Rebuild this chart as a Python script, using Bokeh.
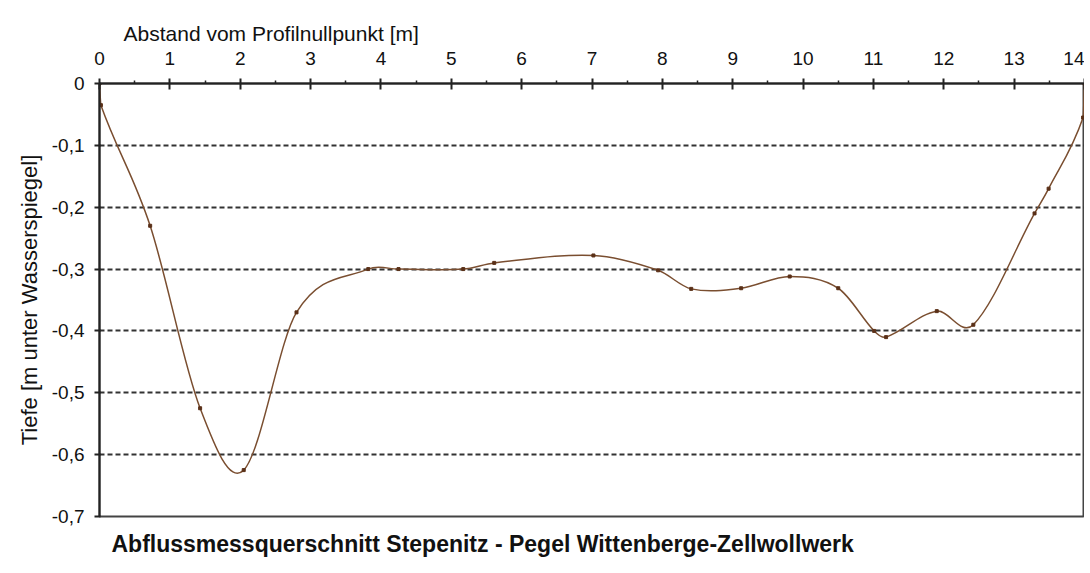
from bokeh.plotting import figure
from bokeh.models import Range1d, FixedTicker, Title, ColumnDataSource
from bokeh.embed import file_html
from bokeh.resources import INLINE

# Measured cross-section: distance from profile zero point [m] and depth [m]
dist = [0.0, 0.02, 0.72, 1.43, 2.05, 2.8, 3.82, 4.25, 5.17, 5.61, 7.02, 7.94,
        8.41, 9.12, 9.81, 10.5, 11.01, 11.18, 11.9, 12.42, 13.29, 13.49, 13.98, 14.0]
depth = [0.0, -0.035, -0.23, -0.525, -0.625, -0.37, -0.30, -0.30, -0.30, -0.29, -0.278, -0.302,
         -0.332, -0.331, -0.312, -0.331, -0.40, -0.41, -0.368, -0.39, -0.21, -0.17, -0.055, 0.0]

x_ticks = list(range(0, 15))
x_minor = [i + 0.5 for i in range(0, 14)]
y_ticks = [0, -0.1, -0.2, -0.3, -0.4, -0.5, -0.6, -0.7]
y_labels = ["0", "-0,1", "-0,2", "-0,3", "-0,4", "-0,5", "-0,6", "-0,7"]

title_text = "Abflussmessquerschnitt Stepenitz - Pegel Wittenberge-Zellwollwerk"
x_title = "Abstand vom Profilnullpunkt [m]"
y_title = "Tiefe [m unter Wasserspiegel]"

FONT = "Liberation Sans"

p = figure(width=1084, height=570, x_range=Range1d(0, 14), y_range=Range1d(-0.7, 0),
           x_axis_location="above", output_backend="svg", toolbar_location=None,
           min_border_left=99, min_border_right=0, min_border_top=83, min_border_bottom=54,
           background_fill_color="white", border_fill_color="white")

p.outline_line_color = "#444444"
p.outline_line_width = 2

# x axis (top)
xa = p.xaxis[0]
xa.ticker = FixedTicker(ticks=x_ticks, minor_ticks=x_minor)
xa.axis_line_color = "#222222"
xa.axis_line_width = 2
xa.major_tick_line_color = "#222222"
xa.major_tick_line_width = 2
xa.major_tick_in = 6
xa.major_tick_out = 5
xa.minor_tick_line_color = "#222222"
xa.minor_tick_line_width = 1.5
xa.minor_tick_in = 0
xa.minor_tick_out = 3
xa.major_label_standoff = 14
xa.major_label_text_font = FONT
xa.major_label_text_font_size = "19px"
xa.major_label_text_color = "#111111"

# y axis (left)
ya = p.yaxis[0]
ya.ticker = FixedTicker(ticks=y_ticks, minor_ticks=[])
ya.major_label_overrides = {t: l for t, l in zip(y_ticks, y_labels)}
ya.axis_line_color = "#222222"
ya.axis_line_width = 2
ya.major_tick_line_color = "#222222"
ya.major_tick_line_width = 2
ya.major_tick_in = 1
ya.major_tick_out = 5
ya.major_label_standoff = 10
ya.major_label_text_font = FONT
ya.major_label_text_font_size = "19px"
ya.major_label_text_color = "#111111"
ya.axis_label = y_title
ya.axis_label_text_font = FONT
ya.axis_label_text_font_size = "22px"
ya.axis_label_text_font_style = "normal"
ya.axis_label_text_color = "#111111"
ya.axis_label_standoff = 7

p.xgrid.visible = False
p.ygrid.grid_line_color = "#333333"
p.ygrid.grid_line_width = 2
p.ygrid.grid_line_dash = "5 3"

# smooth curve: cubic Bezier segments through the measured points
n = len(dist)
slope = []
for i in range(n):
    a = max(i - 1, 0)
    b = min(i + 1, n - 1)
    slope.append((depth[b] - depth[a]) / (dist[b] - dist[a]))

x0, y0, x1, y1, cx0, cy0, cx1, cy1 = [], [], [], [], [], [], [], []
for i in range(n - 1):
    h = dist[i + 1] - dist[i]
    x0.append(dist[i]); y0.append(depth[i])
    x1.append(dist[i + 1]); y1.append(depth[i + 1])
    cx0.append(dist[i] + h / 3.0); cy0.append(depth[i] + slope[i] * h / 3.0)
    cx1.append(dist[i + 1] - h / 3.0); cy1.append(depth[i + 1] - slope[i + 1] * h / 3.0)

src = ColumnDataSource(dict(x0=x0, y0=y0, x1=x1, y1=y1, cx0=cx0, cy0=cy0, cx1=cx1, cy1=cy1))
p.bezier(x0="x0", y0="y0", x1="x1", y1="y1", cx0="cx0", cy0="cy0", cx1="cx1", cy1="cy1",
         source=src, line_color="#7a4e30", line_width=1.5)
p.scatter(dist, depth, size=3, marker="square", color="#5a3018")

# axis title above (left aligned like the original)
p.add_layout(Title(text=x_title, align="left", offset=24, text_font=FONT,
                   text_font_size="21px", text_font_style="normal", text_color="#111111",
                   standoff=8), "above")
# chart title below
p.add_layout(Title(text=title_text, align="left", offset=12, text_font=FONT,
                   text_font_size="23px", text_font_style="bold", text_color="#111111",
                   standoff=24), "below")

open("out.html", "w").write(file_html(p, INLINE))
